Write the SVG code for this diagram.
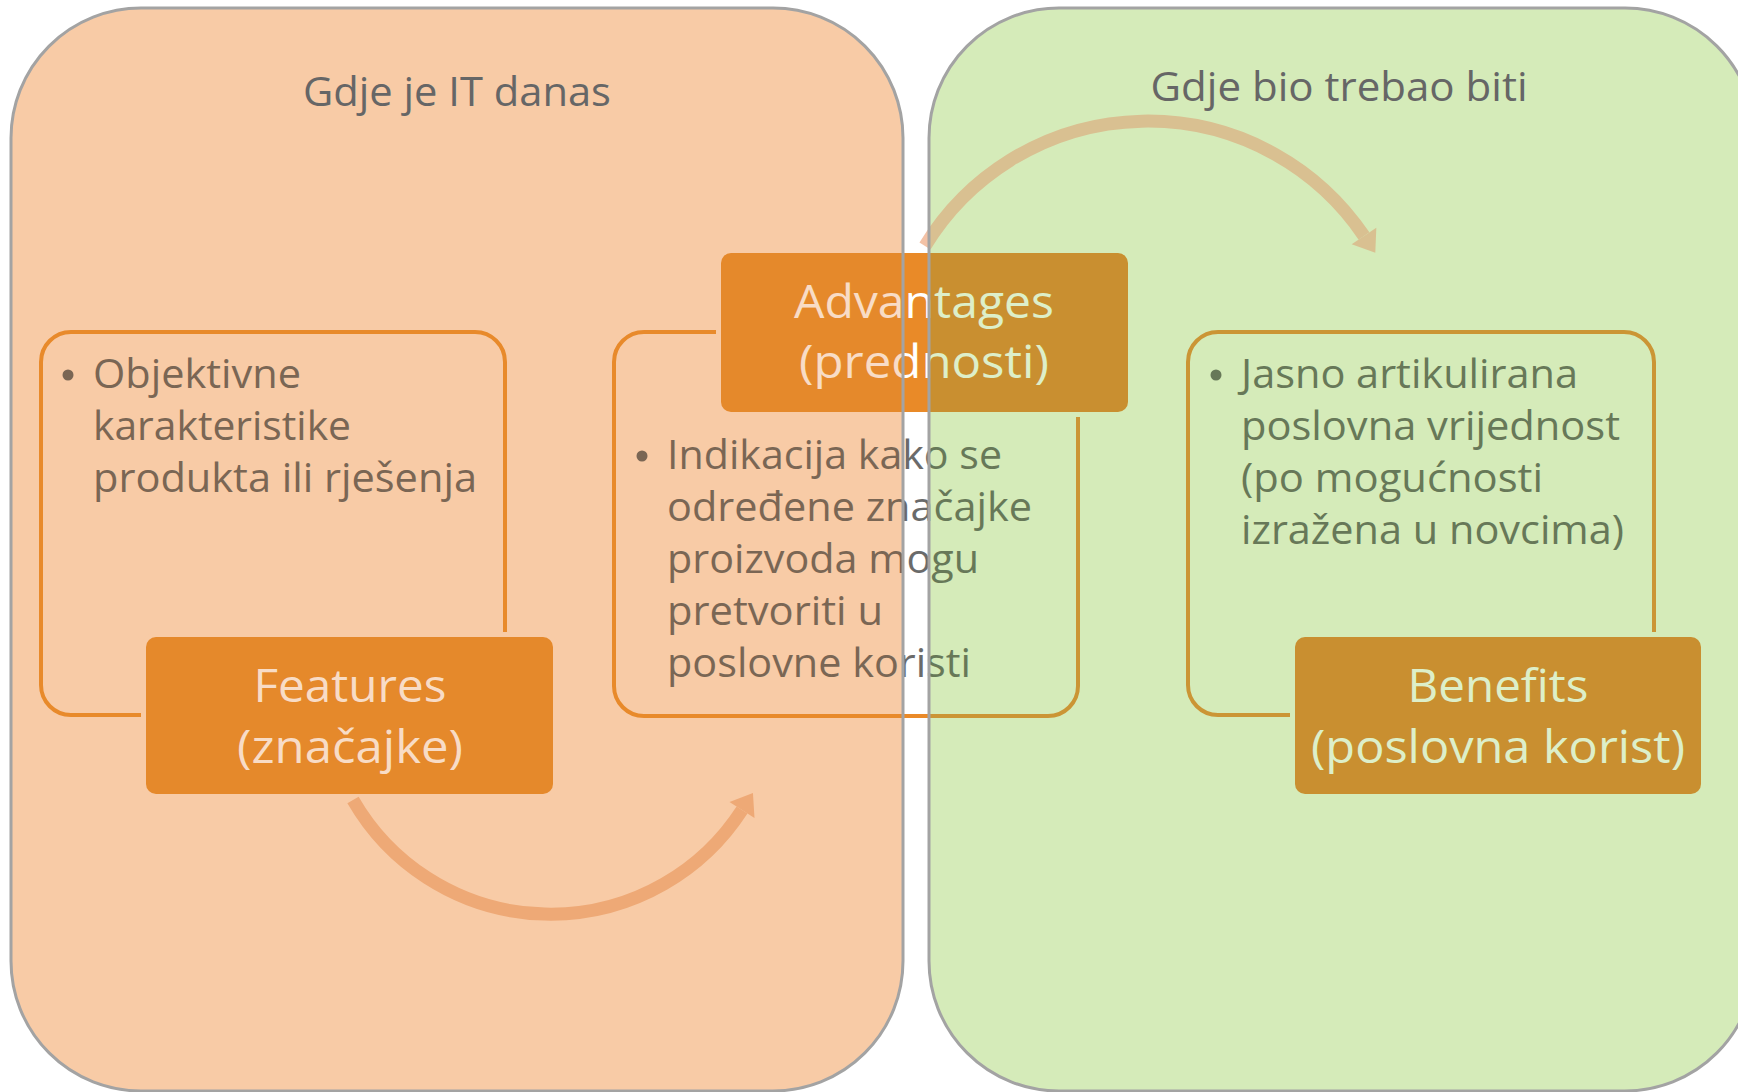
<svg xmlns="http://www.w3.org/2000/svg" width="1738" height="1092" viewBox="0 0 1738 1092">
<style>
.outlineL{fill:none;stroke:#E88A2B;stroke-width:4}
.outlineR{fill:none;stroke:#CB9535;stroke-width:4}
.bt{font-family:"Open Sans","Noto Sans",sans-serif;font-size:41px}
.lt{font-family:"Open Sans","Noto Sans",sans-serif;font-size:46px;text-anchor:middle}
.title{font-family:"Open Sans","Noto Sans",sans-serif;font-size:41px;fill:#666666;text-anchor:middle}
.arc{fill:none;stroke-width:13}
.border{fill:none;stroke:#A3A3A3;stroke-width:3}
</style>
<defs>
<linearGradient id="gText" gradientUnits="userSpaceOnUse" x1="0" y1="0" x2="1738" y2="0">
<stop offset="0.5196" stop-color="#7A6654"/><stop offset="0.5196" stop-color="#6A6A6A"/>
<stop offset="0.5345" stop-color="#6A6A6A"/><stop offset="0.5345" stop-color="#677858"/>
</linearGradient>
<linearGradient id="gOutline" gradientUnits="userSpaceOnUse" x1="0" y1="0" x2="1738" y2="0">
<stop offset="0.5196" stop-color="#E88A2B"/><stop offset="0.5196" stop-color="#EA8A28"/>
<stop offset="0.5345" stop-color="#EA8A28"/><stop offset="0.5345" stop-color="#CB9535"/>
</linearGradient>
<linearGradient id="gBox" gradientUnits="userSpaceOnUse" x1="0" y1="0" x2="1738" y2="0">
<stop offset="0.5196" stop-color="#E5892B"/><stop offset="0.5196" stop-color="#E98A28"/>
<stop offset="0.5345" stop-color="#E98A28"/><stop offset="0.5345" stop-color="#C98F30"/>
</linearGradient>
<linearGradient id="gBoxStroke" gradientUnits="userSpaceOnUse" x1="0" y1="0" x2="1738" y2="0">
<stop offset="0.5196" stop-color="#F8CBA6"/><stop offset="0.5196" stop-color="#FFFFFF"/>
<stop offset="0.5345" stop-color="#FFFFFF"/><stop offset="0.5345" stop-color="#D5EBB9"/>
</linearGradient>
<linearGradient id="gLabel" gradientUnits="userSpaceOnUse" x1="0" y1="0" x2="1738" y2="0">
<stop offset="0.5196" stop-color="#F8DCC6"/><stop offset="0.5196" stop-color="#FFFFFF"/>
<stop offset="0.5345" stop-color="#FFFFFF"/><stop offset="0.5345" stop-color="#DDEFC9"/>
</linearGradient>
<linearGradient id="gArcUp" gradientUnits="userSpaceOnUse" x1="0" y1="0" x2="1738" y2="0">
<stop offset="0.5345" stop-color="#F3C2A6"/><stop offset="0.5345" stop-color="#D9C091"/>
</linearGradient>
<marker id="ahL" markerUnits="userSpaceOnUse" markerWidth="34" markerHeight="34" viewBox="-2 -16 24 32" refX="0" refY="0" orient="auto">
<path d="M0,-14 L19,0 L0,14 Z" fill="#EEA976"/>
</marker>
<marker id="ahU" markerUnits="userSpaceOnUse" markerWidth="34" markerHeight="34" viewBox="-2 -16 24 32" refX="0" refY="0" orient="auto">
<path d="M0,-14 L19,0 L0,14 Z" fill="#D9C091"/>
</marker>
</defs>
<rect x="0" y="0" width="1738" height="1092" fill="#FFFFFF"/>

<g id="panel-left">
<rect x="11" y="8" width="892" height="1083" rx="130" fill="#F8CBA6"/>
<text class="title" x="457" y="106" textLength="308" lengthAdjust="spacingAndGlyphs">Gdje je IT danas</text>
</g>

<g id="panel-right">
<rect x="929" y="8" width="826" height="1083" rx="130" fill="#D5EBB9"/>
<text class="title" x="1339" y="101" textLength="377" lengthAdjust="spacingAndGlyphs">Gdje bio trebao biti</text>
</g>

<g id="node-features">
<rect class="outlineL" x="41" y="332" width="464" height="383" rx="30"/>
<rect x="146" y="637" width="407" height="157" rx="10" fill="#E5892B" stroke="#F8CBA6" stroke-width="10" paint-order="stroke"/>
<circle cx="68" cy="375" r="5.5" fill="#7A6654"/>
<g class="bt" fill="#7A6654">
<text x="93" y="388" textLength="208" lengthAdjust="spacingAndGlyphs">Objektivne</text>
<text x="93" y="440" textLength="258" lengthAdjust="spacingAndGlyphs">karakteristike</text>
<text x="93" y="492" textLength="384" lengthAdjust="spacingAndGlyphs">produkta ili rješenja</text>
</g>
<g class="lt" fill="#F8DCC6">
<text x="350" y="702" textLength="193" lengthAdjust="spacingAndGlyphs">Features</text>
<text x="350" y="763" textLength="226" lengthAdjust="spacingAndGlyphs">(značajke)</text>
</g>
</g>

<g id="node-advantages">
<rect x="614" y="332" width="464" height="384" rx="30" fill="none" stroke="url(#gOutline)" stroke-width="4"/>
<rect x="721" y="253" width="407" height="159" rx="10" fill="url(#gBox)" stroke="url(#gBoxStroke)" stroke-width="10" paint-order="stroke"/>
<circle cx="642" cy="456" r="5.5" fill="#7A6654"/>
<g class="bt" fill="url(#gText)">
<text x="667" y="469" textLength="335" lengthAdjust="spacingAndGlyphs">Indikacija kako se</text>
<text x="667" y="521" textLength="365" lengthAdjust="spacingAndGlyphs">određene značajke</text>
<text x="667" y="573" textLength="312" lengthAdjust="spacingAndGlyphs">proizvoda mogu</text>
<text x="667" y="625" textLength="216" lengthAdjust="spacingAndGlyphs">pretvoriti u</text>
<text x="667" y="677" textLength="304" lengthAdjust="spacingAndGlyphs">poslovne koristi</text>
</g>
<g class="lt" fill="url(#gLabel)">
<text x="924" y="318" textLength="260" lengthAdjust="spacingAndGlyphs">Advantages</text>
<text x="924" y="378" textLength="250" lengthAdjust="spacingAndGlyphs">(prednosti)</text>
</g>
</g>

<g id="node-benefits">
<rect class="outlineR" x="1188" y="332" width="466" height="383" rx="30"/>
<rect x="1295" y="637" width="406" height="157" rx="10" fill="#C98F30" stroke="#D5EBB9" stroke-width="10" paint-order="stroke"/>
<circle cx="1216" cy="375" r="5.5" fill="#677858"/>
<g class="bt" fill="#677858">
<text x="1241" y="388" textLength="337" lengthAdjust="spacingAndGlyphs">Jasno artikulirana</text>
<text x="1241" y="440" textLength="379" lengthAdjust="spacingAndGlyphs">poslovna vrijednost</text>
<text x="1241" y="492" textLength="302" lengthAdjust="spacingAndGlyphs">(po mogućnosti</text>
<text x="1241" y="544" textLength="383" lengthAdjust="spacingAndGlyphs">izražena u novcima)</text>
</g>
<g class="lt" fill="#DDEFC9">
<text x="1498" y="702" textLength="181" lengthAdjust="spacingAndGlyphs">Benefits</text>
<text x="1498" y="763" textLength="374" lengthAdjust="spacingAndGlyphs">(poslovna korist)</text>
</g>
</g>

<g id="connectors">
<path class="arc" stroke="#EEA976" d="M353,800 A228,228 0 0 0 742,810" marker-end="url(#ahL)"/>
<path class="arc" stroke="url(#gArcUp)" d="M925,246 A261,261 0 0 1 1364,236" marker-end="url(#ahU)"/>
</g>

<g id="panel-borders">
<rect class="border" x="11" y="8" width="892" height="1083" rx="130"/>
<rect class="border" x="929" y="8" width="826" height="1083" rx="130"/>
</g>
</svg>
